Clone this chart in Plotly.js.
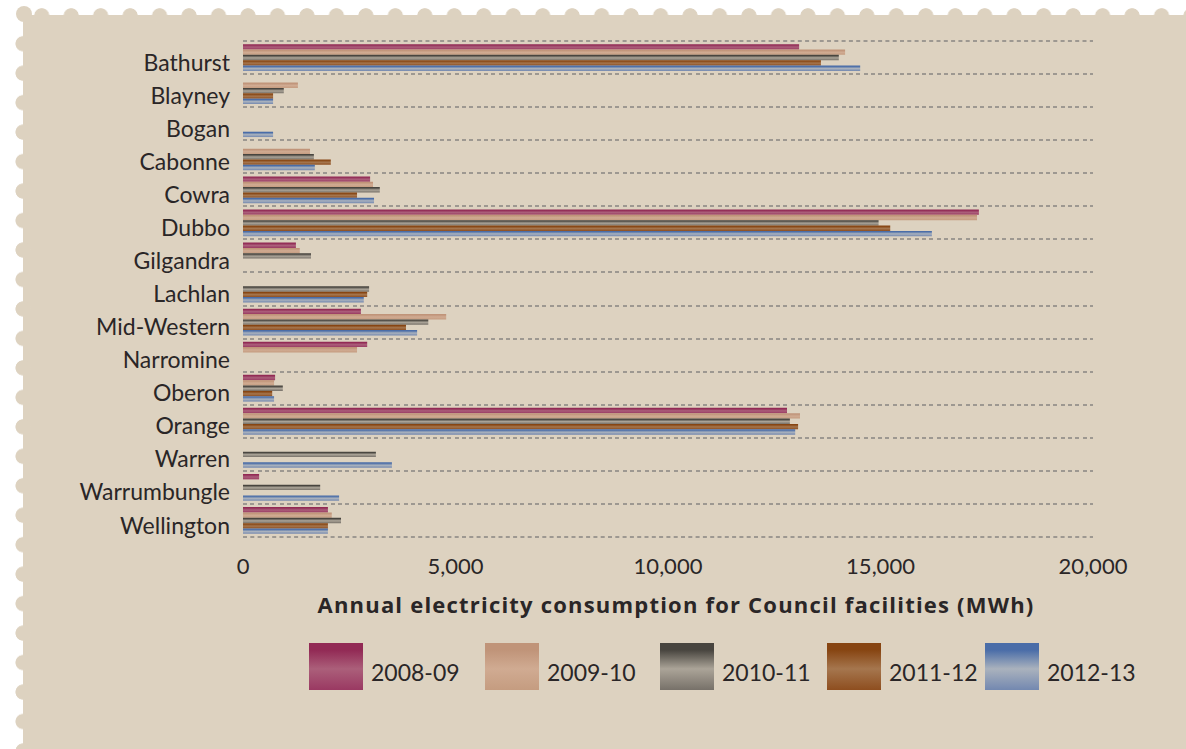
<!DOCTYPE html>
<html>
<head>
<meta charset="utf-8">
<script src="https://cdn.plot.ly/plotly-3.0.1.min.js"></script>
<style>
  html, body { margin:0; padding:0; background:#ffffff; }
  body { width:1186px; height:749px; overflow:hidden; position:relative; }
  #stamp { position:absolute; left:23px; top:15px; right:0; bottom:0; background:#ddd2c0; }
  #topsc { position:absolute; left:27px; top:8px; width:1159px; height:16px;
    background-image: radial-gradient(circle at 14.73px 7.8px, #ddd2c0 7.2px, rgba(221,210,192,0) 7.9px);
    background-size:29.47px 16px; background-repeat:repeat-x; }
  #leftsc { position:absolute; left:15px; top:29px; width:16px; height:720px;
    background-image: radial-gradient(circle at 8px 14.73px, #ddd2c0 7.2px, rgba(221,210,192,0) 7.9px);
    background-size:16px 29.47px; background-repeat:repeat-y; }
  #corner { position:absolute; left:16px; top:6px; width:16px; height:16px; border-radius:50%; background:#ddd2c0; }
  #botsc { position:absolute; left:33px; top:747px; width:1153px; height:2px;
    background-image: radial-gradient(circle at 14.73px 10px, #ffffff 7px, rgba(255,255,255,0) 7.6px);
    background-size:29.47px 20px; background-repeat:repeat-x; }
  #chart { position:absolute; left:0; top:0; width:1186px; height:749px; }
  #chart .xtitle { letter-spacing: 1.2px; transform: translateX(8px); }
</style>
</head>
<body>
<div id="stamp"></div>
<div id="topsc"></div>
<div id="leftsc"></div>
<div id="corner"></div>
<div id="botsc"></div>
<div id="chart"></div>
<script>
// ---- data ----
const councils = ['Bathurst','Blayney','Bogan','Cabonne','Cowra','Dubbo','Gilgandra','Lachlan','Mid-Western','Narromine','Oberon','Orange','Warren','Warrumbungle','Wellington'];
const years = ['2008-09','2009-10','2010-11','2011-12','2012-13'];
const mwh2008_09 = [13085, null, null, null, 2991, 17315, 1245, null, 2774, 2922, 755, 12800, null, 379, 1998];
const mwh2009_10 = [14167, 1292, null, 1577, 3059, 17271, 1336, null, 4781, 2683, 731, 13106, null, null, 2089];
const mwh2010_11 = [14019, 960, null, 1668, 3219, 14955, 1600, 2967, 4360, null, 937, 12868, 3127, 1816, 2306];
const mwh2011_12 = [13598, 708, null, 2066, 2683, 15229, null, 2922, 3835, null, 687, 13061, null, null, 1998];
const mwh2012_13 = [14522, 708, 708, 1690, 3083, 16209, null, 2842, 4097, null, 731, 12993, 3504, 2261, 1998];
const xTicks = [0, 5000, 10000, 15000, 20000];
const xTickText = ['0', '5,000', '10,000', '15,000', '20,000'];

// ---- styles ----
const series = [mwh2008_09, mwh2009_10, mwh2010_11, mwh2011_12, mwh2012_13];
const barColors = ['#a2486b', '#c9a185', '#7f7972', '#9a5a2d', '#8b9ebb'];
const topColors = ['#922a55', '#c09479', '#48453f', '#874512', '#4a6da8'];
const midColors = ['#ab5f7a', '#d0ab92', '#aba498', '#a5764e', '#aab2bd'];
const botColors = ['#9a3962', '#c59c80', '#777169', '#8e4e1f', '#7388b0'];
const FONT = 'Lato, "Open Sans", "DejaVu Sans", sans-serif';
const TXT = '#2a2627';
const GRID = '#9d9891';
const GRIDDASH = '4px,3.3px';

const traces = series.map((vals, i) => ({
  type: 'bar',
  orientation: 'h',
  name: years[i],
  y: councils,
  x: vals,
  marker: { color: barColors[i], line: { width: 0 } },
  showlegend: false,
  hoverinfo: 'x+y+name'
}));

// ---- custom legend (large swatches) ----
const W = 1186, H = 749, ML = 243, MR = 93, MT = 41, MB = 212;
const PW = W - ML - MR, PH = H - MT - MB;
const px2x = p => (p - ML) / PW;
const px2y = p => (H - MB - p) / PH;
const swatchLeft = [309, 485, 660, 827, 985];
const swW = 54, swTop = 643, swBot = 690;
const shapes = [];
const annotations = [];
// top and bottom dashed rules (the inner ones are category-boundary gridlines)
[0, 1].forEach(yy => shapes.push({
  type: 'line', xref: 'paper', yref: 'paper', x0: 0, x1: 1, y0: yy, y1: yy,
  line: { color: GRID, width: 2, dash: GRIDDASH }, layer: 'below'
}));
const legendShapeStart = shapes.length;
years.forEach((yr, i) => {
  const x0 = swatchLeft[i], x1 = x0 + swW;
  shapes.push({
    type: 'rect', xref: 'paper', yref: 'paper',
    x0: px2x(x0), x1: px2x(x1), y0: px2y(swBot), y1: px2y(swTop),
    fillcolor: barColors[i], line: { width: 0 }, layer: 'above'
  });
  annotations.push({
    xref: 'paper', yref: 'paper', x: px2x(x1 + 6), y: px2y(672),
    xanchor: 'left', yanchor: 'middle', showarrow: false,
    text: yr, font: { family: FONT, size: 23, color: TXT }
  });
});

const layout = {
  width: W, height: H,
  margin: { l: ML, r: MR, t: MT, b: MB, pad: 0 },
  paper_bgcolor: 'rgba(0,0,0,0)',
  plot_bgcolor: 'rgba(0,0,0,0)',
  barmode: 'group',
  bargap: 0.19,
  bargroupgap: 0,
  font: { family: FONT, color: TXT },
  xaxis: {
    range: [0, 20000],
    tickvals: xTicks, ticktext: xTickText,
    showgrid: false, zeroline: false, showline: false,
    ticks: '', ticklabelstandoff: 14,
    tickfont: { family: FONT, size: 22, color: TXT },
    title: { text: 'Annual electricity consumption for Council facilities (MWh)',
      font: { family: '"Open Sans", Lato, sans-serif', size: 22, color: TXT, weight: 'bold' }, standoff: 19 },
    fixedrange: true
  },
  yaxis: {
    type: 'category',
    autorange: 'reversed',
    tickson: 'boundaries',
    showgrid: true, gridcolor: GRID, gridwidth: 2, griddash: GRIDDASH,
    zeroline: false, showline: false,
    ticks: '', ticklabelstandoff: 12, ticklabelshift: -5,
    tickfont: { family: FONT, size: 23, color: TXT },
    fixedrange: true
  },
  shapes: shapes,
  annotations: annotations,
  showlegend: false
};

Plotly.newPlot('chart', traces, layout, { displayModeBar: false, staticPlot: true }).then(gd => {
  // give bars and legend swatches the reference's vertical gradient shading
  try {
    const svg = gd.querySelector('svg.main-svg');
    const NS = 'http://www.w3.org/2000/svg';
    let defs = svg.querySelector('defs');
    if (!defs) { defs = document.createElementNS(NS, 'defs'); svg.insertBefore(defs, svg.firstChild); }
    years.forEach((yr, i) => {
      const g = document.createElementNS(NS, 'linearGradient');
      g.setAttribute('id', 'barGrad' + i);
      g.setAttribute('x1', '0'); g.setAttribute('y1', '0');
      g.setAttribute('x2', '0'); g.setAttribute('y2', '1');
      [[0, topColors[i]], [0.15, topColors[i]], [0.55, midColors[i]], [1, botColors[i]]].forEach(([o, c]) => {
        const s = document.createElementNS(NS, 'stop');
        s.setAttribute('offset', o); s.setAttribute('stop-color', c);
        g.appendChild(s);
      });
      defs.appendChild(g);
    });
    const barTraces = gd.querySelectorAll('.barlayer .trace');
    barTraces.forEach((tr, i) => {
      tr.querySelectorAll('path').forEach(p => { p.style.fill = 'url(#barGrad' + i + ')'; });
    });
    const shapePaths = gd.querySelectorAll('.layer-above .shapelayer path');
    shapePaths.forEach(p => {
      const idx = +p.getAttribute('data-index') - legendShapeStart;
      if (idx >= 0 && idx < years.length) p.style.fill = 'url(#barGrad' + idx + ')';
    });
  } catch (e) { /* keep solid colours */ }
});
</script>
</body>
</html>
